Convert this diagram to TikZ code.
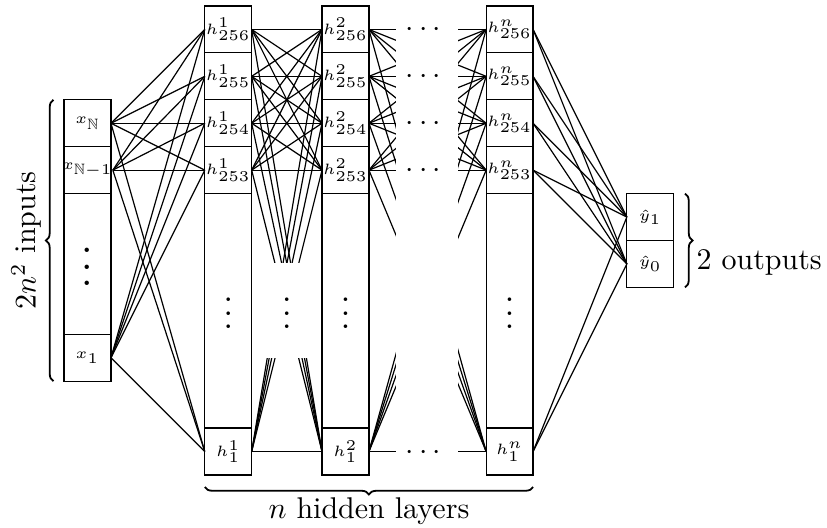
\documentclass[tikz,border=0pt]{standalone}
\usepackage{amsmath,amssymb}
\usetikzlibrary{decorations.pathreplacing}
\tikzset{
  lab/.style={rectangle, minimum width=15.633pt, inner sep=0pt, outer sep=0pt, font=\tiny},
  frame/.style={draw, line width=0.4pt},
  conn/.style={draw, line width=0.4pt},
  bracedeco/.style={decorate, decoration={brace, amplitude=2.5pt}, semithick},
  vdotsnode/.style={inner sep=0pt, anchor=base},
  cdotsnode/.style={inner sep=0pt, anchor=base}
}
\begin{document}
\begin{tikzpicture}[x=15.633pt,y=15.633pt]
\useasboundingbox (0,0) rectangle (17.633,11.237);
\def\T{11.109}
% ---- cell frames
% input column
\draw[frame] (1.366,\T-2) rectangle (2.366,\T-8);
\foreach \k in {3,4,7} \draw[frame] (1.366,\T-\k) -- (2.366,\T-\k);
% hidden columns
\foreach \X in {4.866,7.366,10.866} {
  \draw[frame] (\X-0.5,\T) rectangle (\X+0.5,\T-10);
  \foreach \k in {1,2,3,4,9} \draw[frame] (\X-0.5,\T-\k) -- (\X+0.5,\T-\k);
}
% output column
\draw[frame] (13.366,\T-4) rectangle (14.366,\T-6);
\draw[frame] (13.366,\T-5) -- (14.366,\T-5);
% ---- labelled nodes
\node[lab] (xN)  at (1.866,\T-2.5) {$x_{\mathbb{N}}$};
\node[lab] (xN1) at (1.866,\T-3.5) {$x_{\mathbb{N}-1}$};
\node[lab] (x1)  at (1.866,\T-7.5) {$x_{1}$};
\foreach \L/\X/\s in {1/4.866/1, 2/7.366/2, n/10.866/n} {
  \node[lab] (h\L-256) at (\X,\T-0.5) {$h^{\s}_{256}$};
  \node[lab] (h\L-255) at (\X,\T-1.5) {$h^{\s}_{255}$};
  \node[lab] (h\L-254) at (\X,\T-2.5) {$h^{\s}_{254}$};
  \node[lab] (h\L-253) at (\X,\T-3.5) {$h^{\s}_{253}$};
  \node[lab] (h\L-1) at (\X,\T-9.5) {$h^{\s}_{1}$};
}
\node[lab] (y1) at (13.866,\T-4.5) {$\hat{y}_1$};
\node[lab] (y0) at (13.866,\T-5.5) {$\hat{y}_0$};
% ---- connections
\foreach \a in {xN,xN1,x1}
  \foreach \b in {256,255,254,253,1}
    \draw[conn] (\a.east) -- (h1-\b.west);
\foreach \a in {256,255,254,253,1}
  \foreach \b in {256,255,254,253,1} {
    \draw[conn] (h1-\a.east) -- (h2-\b.west);
    \draw[conn] (h2-\a.east) -- (hn-\b.west);
  }
\foreach \a in {256,255,254,253,1}
  \foreach \b in {y1,y0}
    \draw[conn] (hn-\a.east) -- (\b.west);
% ---- gaps
\fill[white] (5.378,3.603) rectangle (6.854,5.629);
\fill[white] (8.443,0.9) rectangle (9.765,11.2);
% ---- dots
\node[vdotsnode, scale=1.375] at (1.866,5.537-0.397) {$\vdots$};
\foreach \X in {4.866,6.113,7.366,10.866}
  \node[vdotsnode, scale=1.125] at (\X,4.55-0.326) {$\vdots$};
\foreach \Y in {\T-0.5,\T-1.5,\T-2.5,\T-3.5,\T-9.5}
  \node[cdotsnode] at (9.08,\Y-0.16) {$\cdots$};
% ---- braces
\draw[bracedeco] (1.14,\T-8) -- (1.14,\T-2);
\node[rotate=90, anchor=base] at (0.76,\T-5) {$2n^2$ inputs};
\draw[bracedeco] (11.366,0.853) -- (4.366,0.853);
\node[anchor=base] at (7.866,0.185) {$n$ hidden layers};
\draw[bracedeco] (14.606,\T-4) -- (14.606,\T-6);
\node[anchor=base west, inner sep=0pt] at (14.84,5.48) {2 outputs};
\end{tikzpicture}
\end{document}
